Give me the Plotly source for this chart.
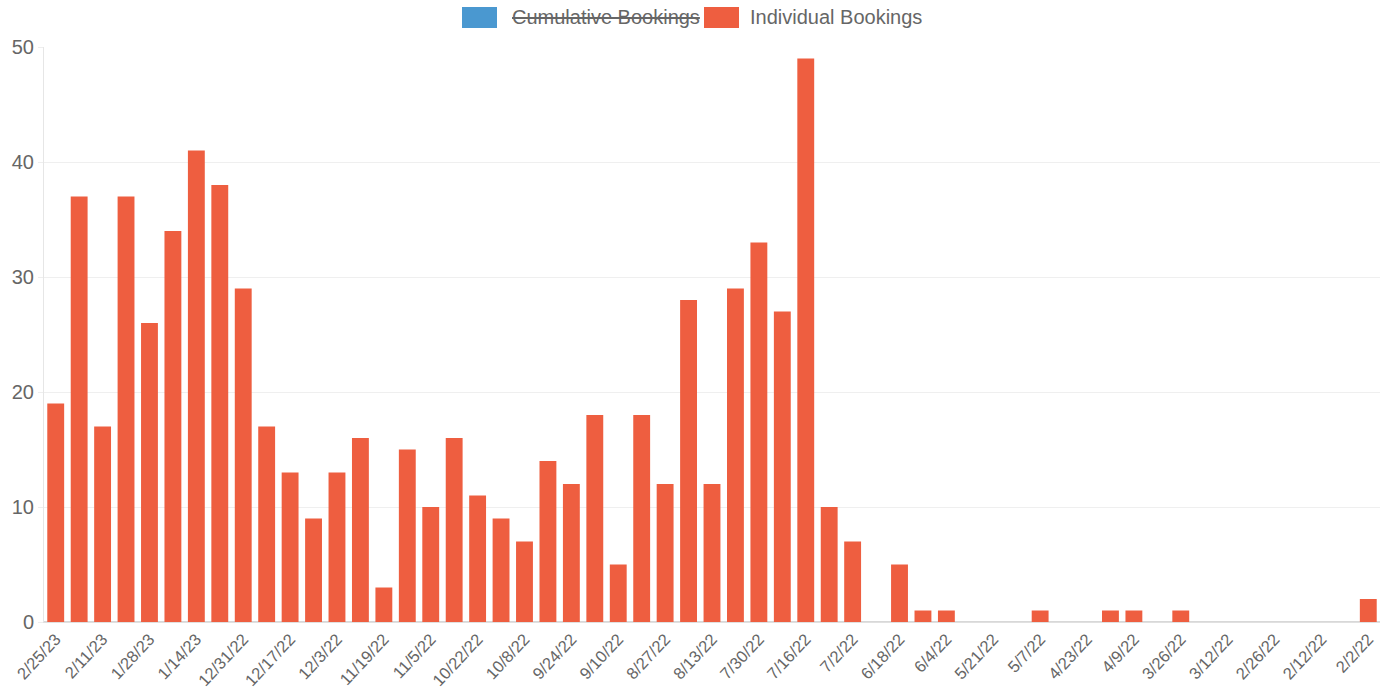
import plotly.graph_objects as go

weeks = ["2/25/23", "2/18/23", "2/11/23", "2/4/23", "1/28/23", "1/21/23", "1/14/23", "1/7/23",
         "12/31/22", "12/24/22", "12/17/22", "12/10/22", "12/3/22", "11/26/22", "11/19/22", "11/12/22",
         "11/5/22", "10/29/22", "10/22/22", "10/15/22", "10/8/22", "10/1/22", "9/24/22", "9/17/22",
         "9/10/22", "9/3/22", "8/27/22", "8/20/22", "8/13/22", "8/6/22", "7/30/22", "7/23/22",
         "7/16/22", "7/9/22", "7/2/22", "6/25/22", "6/18/22", "6/11/22", "6/4/22", "5/28/22",
         "5/21/22", "5/14/22", "5/7/22", "4/30/22", "4/23/22", "4/16/22", "4/9/22", "4/2/22",
         "3/26/22", "3/19/22", "3/12/22", "3/5/22", "2/26/22", "2/19/22", "2/12/22", "2/5/22", "2/2/22"]

individual = [19, 37, 17, 37, 26, 34, 41, 38,
              29, 17, 13, 9, 13, 16, 3, 15,
              10, 16, 11, 9, 7, 14, 12, 18,
              5, 18, 12, 28, 12, 29, 33, 27,
              49, 10, 7, 0, 5, 1, 1, 0,
              0, 0, 1, 0, 0, 1, 1, 0,
              1, 0, 0, 0, 0, 0, 0, 0, 2]

series_names = ["Cumulative Bookings", "Individual Bookings"]
series_hidden = [True, False]

tick_labels = weeks[::2]
y_ticks = [0, 10, 20, 30, 40, 50]

RED = "rgb(238,94,64)"
BLUE = "rgb(74,152,208)"
GREY = "#666666"
FONT = "Liberation Sans, Arial, Helvetica, sans-serif"

W, H = 1383, 692
ML, MR, MT, MB = 44, 3, 47, 70
PW, PH = W - ML - MR, H - MT - MB

fig = go.Figure()
fig.add_trace(go.Bar(x=weeks, y=individual, name=series_names[1],
                     marker=dict(color=RED, line=dict(width=0)),
                     width=0.72, showlegend=False))

# Chart.js-style legend: big colour boxes, hidden dataset struck through
def px_x(p):
    return (p - ML) / PW

def px_y(p):
    return (H - MB - p) / PH

legend_items = [
    (series_names[0], BLUE, series_hidden[0], 462, 497, 510),
    (series_names[1], RED, series_hidden[1], 704, 739, 748),
]
for name, color, hidden, x0, x1, tx in legend_items:
    fig.add_shape(type="rect", xref="paper", yref="paper",
                  x0=px_x(x0), x1=px_x(x1), y0=px_y(28), y1=px_y(7),
                  fillcolor=color, line=dict(width=0), layer="above")
    fig.add_annotation(xref="paper", yref="paper", x=px_x(tx), y=px_y(17),
                       xanchor="left", yanchor="middle", showarrow=False,
                       text=(f"<s>{name}</s>" if hidden else name),
                       font=dict(family=FONT, size=20, color=GREY))

fig.update_layout(
    width=W, height=H,
    margin=dict(l=ML, r=MR, t=MT, b=MB, autoexpand=False),
    paper_bgcolor="white", plot_bgcolor="white",
    font=dict(family=FONT, size=20, color=GREY),
    showlegend=False,
    xaxis=dict(type="category", categoryorder="array", categoryarray=weeks,
               tickmode="array", tickvals=tick_labels, ticktext=tick_labels,
               tickangle=-47, showgrid=False, showline=True, linecolor="#e0e0e0",
               automargin=False,
               ticks="", tickfont=dict(size=16.5, color=GREY), range=[-0.5, len(weeks) - 0.5]),
    yaxis=dict(range=[0, 50], tickvals=y_ticks, showgrid=True, gridcolor="#efefef",
               automargin=False,
               zeroline=True, zerolinecolor="#d8d8d8", showline=True, linecolor="#e6e6e6",
               ticks="outside", ticklen=5, tickcolor="#eeeeee",
               tickfont=dict(size=20, color=GREY)),
)

fig.write_html("out.html")
